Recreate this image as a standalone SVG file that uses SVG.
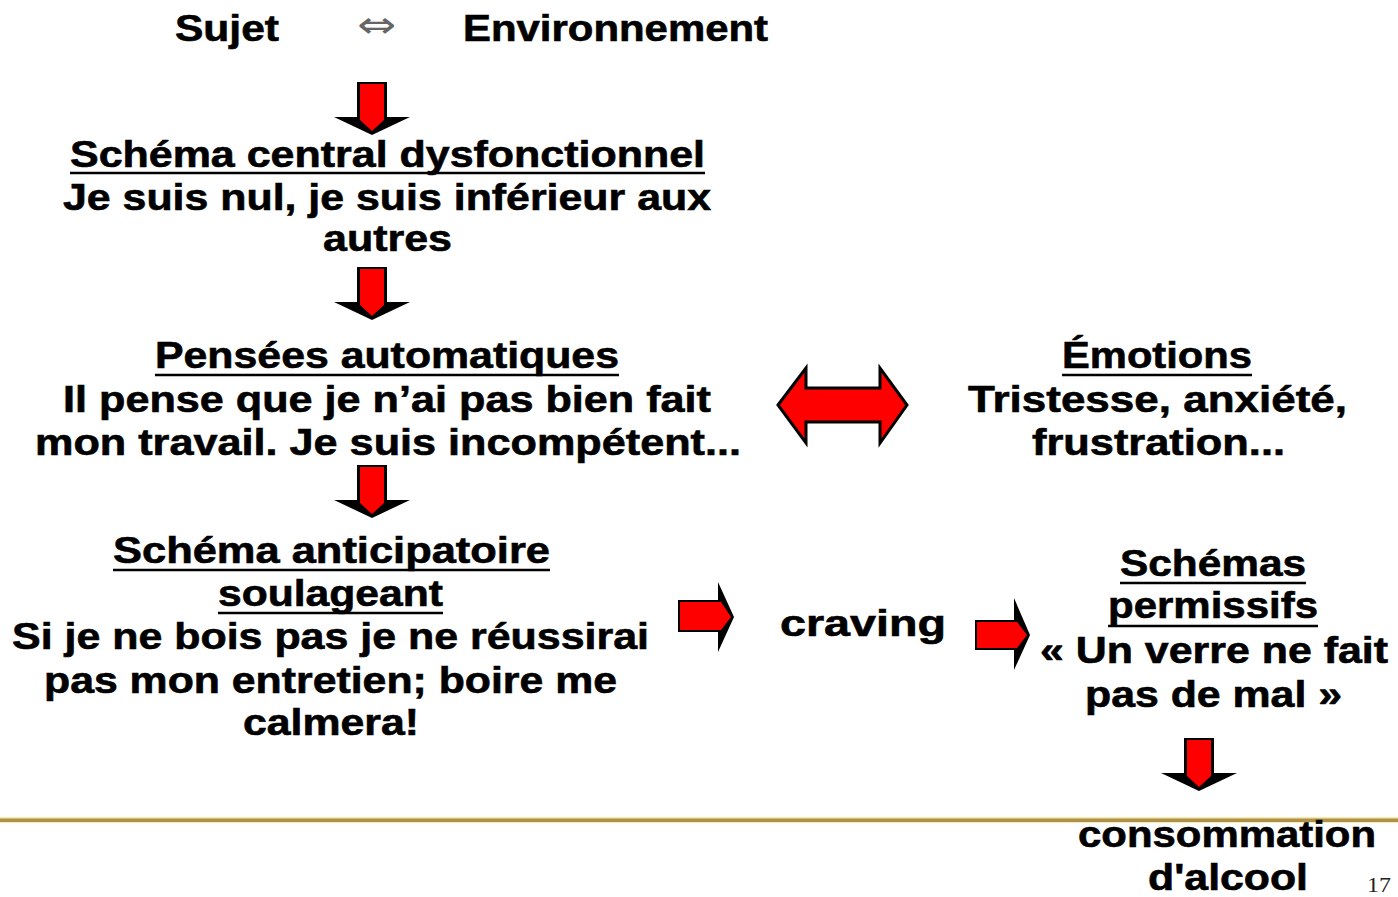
<svg xmlns="http://www.w3.org/2000/svg" width="1398" height="897" viewBox="0 0 1398 897">
<defs>
<style>
.t{font-family:"Liberation Sans",Arial,sans-serif;font-weight:bold;font-size:36px;fill:#000;stroke:#000;stroke-width:0.6}
.u{stroke:#000;stroke-width:2.5}
.blk{fill:#000}
.red{fill:#ff0000}
</style>
<g id="downArrow">
<polygon class="blk" points="-15,0 15,0 15,35 38,35 0,53 -38,35 -15,35"/>
<polygon class="red" points="-12,2 12,2 12,38 0,49 -12,38"/>
</g>
</defs>
<rect width="1398" height="897" fill="#fff"/>

<g id="connectors">
<use href="#downArrow" x="372" y="82"/>
<use href="#downArrow" x="372" y="267"/>
<use href="#downArrow" x="372" y="465"/>
<use href="#downArrow" x="1199" y="738"/>
<polygon points="778,405 806,368 806,388 880,388 880,368 907,405 880,443 880,422 806,422 806,443" fill="#ff0000" stroke="#000" stroke-width="3" stroke-linejoin="miter"/>
<polygon class="blk" points="678,600 718,600 718,582 734,617 718,652 718,632 678,632"/>
<polygon class="red" points="680,602 721,602 731,617 721,630 680,630"/>
<polygon class="blk" points="975,620 1014,620 1014,598 1030,635 1014,670 1014,650 975,650"/>
<polygon class="red" points="977,622 1017,622 1027,635 1017,648 977,648"/>
</g>

<g id="header">
<text class="t" x="175" y="41" textLength="104" lengthAdjust="spacingAndGlyphs">Sujet</text>
<text x="357" y="37" font-family="DejaVu Sans,sans-serif" font-size="36" fill="#666" textLength="39" lengthAdjust="spacingAndGlyphs">⇔</text>
<text class="t" x="463" y="41" textLength="305" lengthAdjust="spacingAndGlyphs">Environnement</text>
</g>

<g id="schema-central">
<text class="t" x="70" y="167" textLength="635" lengthAdjust="spacingAndGlyphs">Schéma central dysfonctionnel</text>
<line class="u" x1="70" y1="173" x2="705" y2="173"/>
<text class="t" x="63" y="210" textLength="648" lengthAdjust="spacingAndGlyphs">Je suis nul, je suis inférieur aux</text>
<text class="t" x="323" y="251" textLength="129" lengthAdjust="spacingAndGlyphs">autres</text>
</g>

<g id="pensees">
<text class="t" x="155" y="368" textLength="464" lengthAdjust="spacingAndGlyphs">Pensées automatiques</text>
<line class="u" x1="155" y1="375" x2="619" y2="375"/>
<text class="t" x="63" y="412" textLength="648" lengthAdjust="spacingAndGlyphs">Il pense que je n’ai pas bien fait</text>
<text class="t" x="35" y="455" textLength="706" lengthAdjust="spacingAndGlyphs">mon travail. Je suis incompétent...</text>
</g>

<g id="emotions">
<text class="t" x="1062" y="368" textLength="190" lengthAdjust="spacingAndGlyphs">Émotions</text>
<line class="u" x1="1062" y1="375" x2="1252" y2="375"/>
<text class="t" x="968" y="412" textLength="379" lengthAdjust="spacingAndGlyphs">Tristesse, anxiété,</text>
<text class="t" x="1032" y="455" textLength="253" lengthAdjust="spacingAndGlyphs">frustration...</text>
</g>

<g id="schema-anticipatoire">
<text class="t" x="113" y="563" textLength="437" lengthAdjust="spacingAndGlyphs">Schéma anticipatoire</text>
<line class="u" x1="113" y1="570" x2="550" y2="570"/>
<text class="t" x="218" y="606" textLength="225" lengthAdjust="spacingAndGlyphs">soulageant</text>
<line class="u" x1="218" y1="613" x2="443" y2="613"/>
<text class="t" x="12" y="649" textLength="637" lengthAdjust="spacingAndGlyphs">Si je ne bois pas je ne réussirai</text>
<text class="t" x="44" y="693" textLength="573" lengthAdjust="spacingAndGlyphs">pas mon entretien; boire me</text>
<text class="t" x="243" y="735" textLength="176" lengthAdjust="spacingAndGlyphs">calmera!</text>
</g>

<g id="craving">
<text class="t" x="780" y="636" textLength="166" lengthAdjust="spacingAndGlyphs">craving</text>
</g>

<g id="schemas-permissifs">
<text class="t" x="1120" y="576" textLength="186" lengthAdjust="spacingAndGlyphs">Schémas</text>
<line class="u" x1="1120" y1="583" x2="1306" y2="583"/>
<text class="t" x="1108" y="618" textLength="210" lengthAdjust="spacingAndGlyphs">permissifs</text>
<line class="u" x1="1108" y1="626" x2="1318" y2="626"/>
<text class="t" x="1040" y="663" textLength="348" lengthAdjust="spacingAndGlyphs">« Un verre ne fait</text>
<text class="t" x="1085" y="707" textLength="257" lengthAdjust="spacingAndGlyphs">pas de mal »</text>
</g>

<rect x="0" y="817" width="1398" height="6" fill="#f3ecb0"/>
<rect x="0" y="818.5" width="1398" height="3.5" fill="#b09048"/>

<g id="consommation">
<text class="t" x="1078" y="847" textLength="298" lengthAdjust="spacingAndGlyphs">consommation</text>
<text class="t" x="1148" y="890" textLength="160" lengthAdjust="spacingAndGlyphs">d'alcool</text>
</g>

<text x="1367" y="892" font-family="Liberation Serif,serif" font-size="22" fill="#222" textLength="24" lengthAdjust="spacingAndGlyphs">17</text>
</svg>
